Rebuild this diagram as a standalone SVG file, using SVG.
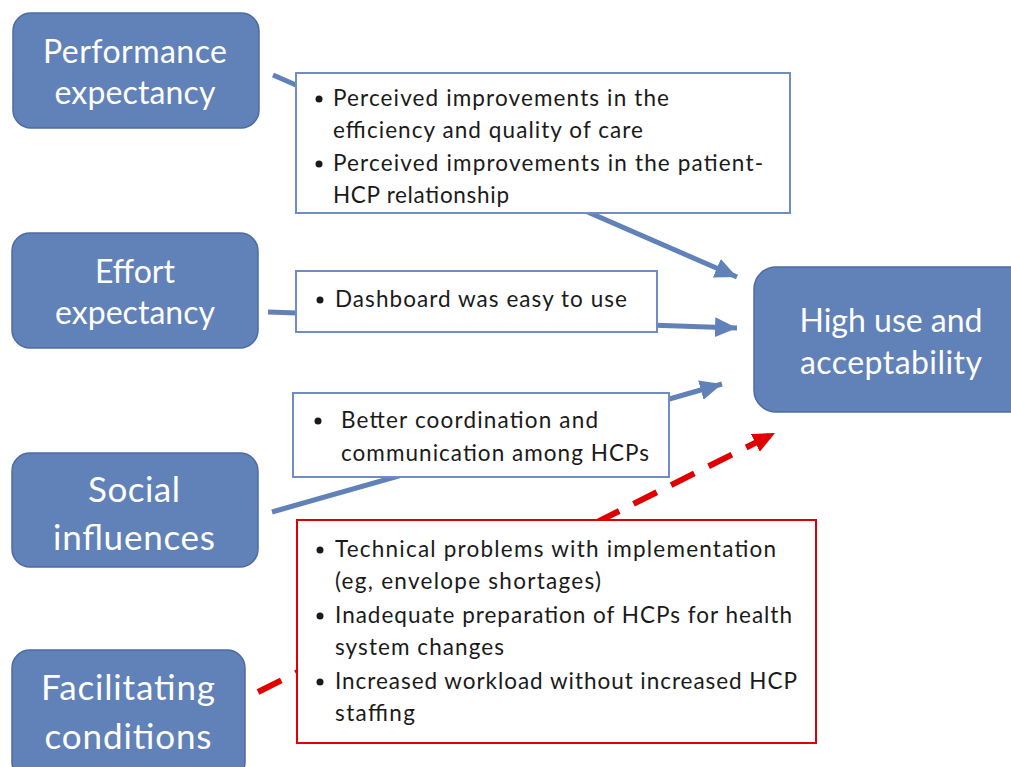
<svg xmlns="http://www.w3.org/2000/svg" width="1011" height="767" viewBox="0 0 1011 767">
  <style>
    .node { fill: #6181b9; stroke: #4d6ba3; stroke-width: 1.5; }
    .ntext { font-family: Lato, "Liberation Sans", sans-serif; fill: #ffffff; text-anchor: middle; }
    .box { fill: #ffffff; stroke: #6f8cc4; stroke-width: 2; }
    .rbox { fill: #ffffff; stroke: #e00000; stroke-width: 2; }
    .btext { font-family: Lato, "Liberation Sans", sans-serif; font-size: 22.5px; fill: #1a1a1a; }
    .bullet { fill: #1a1a1a; }
    .edge { stroke: #6181b9; stroke-width: 5; fill: none; }
    .neg { stroke: #e00000; stroke-width: 6; fill: none; stroke-dasharray: 26 16; }
  </style>
  <defs>
    <marker id="arrow" markerUnits="userSpaceOnUse" markerWidth="24" markerHeight="22" refX="22" refY="11" orient="auto">
      <path d="M0,1 L22,11 L0,21 Z" fill="#6181b9"/>
    </marker>
    <marker id="arrowRed" markerUnits="userSpaceOnUse" markerWidth="24" markerHeight="22" refX="22" refY="11" orient="auto">
      <path d="M0,1 L22,11 L0,21 Z" fill="#e00000"/>
    </marker>
  </defs>

  <!-- connectors run behind the text boxes -->
  <g id="connectors">
    <line class="edge" x1="273" y1="75" x2="737" y2="277" marker-end="url(#arrow)"/>
    <line class="edge" x1="268" y1="312" x2="737" y2="328" marker-end="url(#arrow)"/>
    <line class="edge" x1="272" y1="512" x2="722" y2="384" marker-end="url(#arrow)"/>
    <line class="neg" x1="258" y1="692" x2="775" y2="433" marker-end="url(#arrowRed)"/>
  </g>

  <g id="performance-expectancy">
    <rect class="node" x="13" y="13" width="246" height="115" rx="18"/>
    <text class="ntext" font-size="32" x="135" y="63" textLength="184">Performance</text>
    <text class="ntext" font-size="32" x="135" y="104" textLength="161">expectancy</text>
  </g>

  <g id="effort-expectancy">
    <rect class="node" x="12" y="233" width="246" height="115" rx="18"/>
    <text class="ntext" font-size="32" x="135" y="283" textLength="80">Effort</text>
    <text class="ntext" font-size="32" x="135" y="324" textLength="160">expectancy</text>
  </g>

  <g id="social-influences">
    <rect class="node" x="12" y="453" width="246" height="114" rx="18"/>
    <text class="ntext" font-size="35" x="134" y="502" textLength="92">Social</text>
    <text class="ntext" font-size="35" x="134" y="550" textLength="162">influences</text>
  </g>

  <g id="facilitating-conditions">
    <rect class="node" x="12" y="650" width="233" height="130" rx="18"/>
    <text class="ntext" font-size="35" x="128" y="700" textLength="174">Facilitating</text>
    <text class="ntext" font-size="35" x="128" y="749" textLength="167">conditions</text>
  </g>

  <g id="high-use">
    <rect class="node" x="754" y="267" width="280" height="145" rx="22"/>
    <text class="ntext" font-size="32" x="891" y="332" textLength="183">High use and</text>
    <text class="ntext" font-size="32" x="891" y="374" textLength="182">acceptability</text>
  </g>

  <g id="performance-factors">
    <rect class="box" x="296" y="73" width="494" height="140"/>
    <circle class="bullet" cx="319" cy="99" r="3.5"/>
    <text class="btext" x="333" y="106" textLength="336">Perceived improvements in the</text>
    <text class="btext" x="333" y="138" textLength="310">efficiency and quality of care</text>
    <circle class="bullet" cx="319" cy="164" r="3.5"/>
    <text class="btext" x="333" y="171" textLength="430">Perceived improvements in the patient-</text>
    <text class="btext" x="333" y="203" textLength="176">HCP relationship</text>
  </g>

  <g id="effort-factors">
    <rect class="box" x="296" y="271" width="361" height="61"/>
    <circle class="bullet" cx="320" cy="300" r="3.5"/>
    <text class="btext" x="335" y="307" textLength="292">Dashboard was easy to use</text>
  </g>

  <g id="social-factors">
    <rect class="box" x="293" y="393" width="376" height="84"/>
    <circle class="bullet" cx="318" cy="421" r="3.5"/>
    <text class="btext" x="341" y="428" textLength="257">Better coordination and</text>
    <text class="btext" x="341" y="461" textLength="308">communication among HCPs</text>
  </g>

  <g id="facilitating-factors">
    <rect class="rbox" x="297" y="520" width="519" height="223"/>
    <circle class="bullet" cx="320" cy="550" r="3.5"/>
    <text class="btext" x="335" y="557" textLength="441">Technical problems with implementation</text>
    <text class="btext" x="335" y="589" textLength="266">(eg, envelope shortages)</text>
    <circle class="bullet" cx="320" cy="616" r="3.5"/>
    <text class="btext" x="335" y="623" textLength="457">Inadequate preparation of HCPs for health</text>
    <text class="btext" x="335" y="655" textLength="169">system changes</text>
    <circle class="bullet" cx="320" cy="682" r="3.5"/>
    <text class="btext" x="335" y="689" textLength="462">Increased workload without increased HCP</text>
    <text class="btext" x="335" y="721" textLength="80">staffing</text>
  </g>
</svg>
